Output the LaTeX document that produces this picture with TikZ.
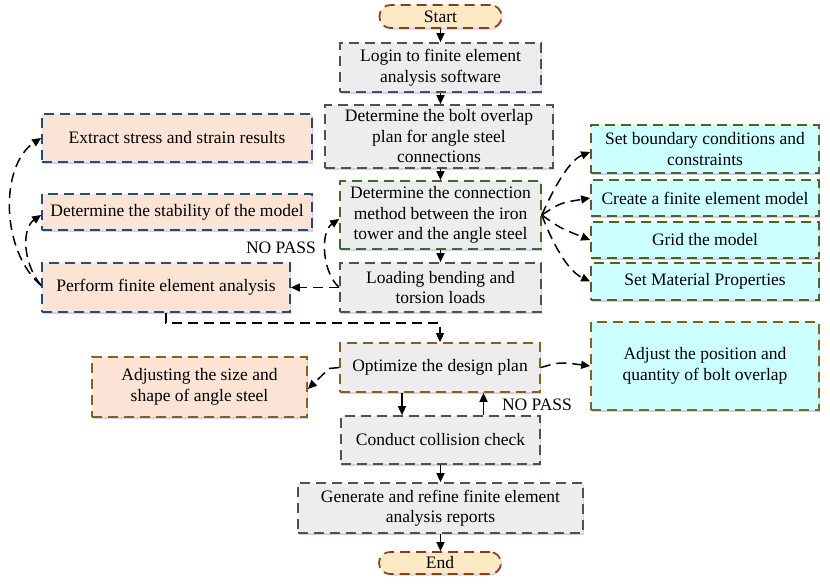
\documentclass[tikz,border=0pt]{standalone}
\usepackage{fontspec}
\setmainfont{Liberation Serif}
\usetikzlibrary{arrows.meta,shadows}

\definecolor{boxgray}{HTML}{EDEDED}
\definecolor{edgegray}{HTML}{505050}
\definecolor{startfill}{HTML}{FDEAC4}
\definecolor{startedge}{HTML}{8A3F14}
\definecolor{peach}{HTML}{FBE4D5}
\definecolor{blueedge}{HTML}{1F4E79}
\definecolor{cyanfill}{HTML}{CCFFFF}
\definecolor{greenedge}{HTML}{3E6B2A}
\definecolor{olivegreen}{HTML}{4F6228}
\definecolor{goldedge}{HTML}{86631A}

\begin{document}
\begin{tikzpicture}[x=1pt,y=-1pt,
  every node/.style={font=\fontsize{17.5}{20.5}\selectfont},
  graybox/.style={draw=edgegray, fill=boxgray, line width=1.7pt,
    dash pattern=on 10pt off 6pt, align=center, inner sep=0pt,
    drop shadow={shadow xshift=1pt, shadow yshift=-1.5pt, fill=blue!50!gray, opacity=0.25}},
  termbox/.style={graybox, draw=startedge, fill=startfill, rounded corners=11pt},
  peachbox/.style={graybox, draw=blueedge, fill=peach},
  cyanbox/.style={graybox, draw=olivegreen, fill=cyanfill},
  arr/.style={-{Triangle[length=9pt,width=8pt]}, line width=1.5pt, black},
  darr/.style={arr, dash pattern=on 10pt off 6pt},
  lbl/.style={inner sep=0pt}
]
\useasboundingbox (0,0) rectangle (830,587);

% main column
\node[termbox, minimum width=122pt, minimum height=23pt] (start) at (440.5,16.5) {Start};
\node[graybox, minimum width=201pt, minimum height=49pt] (login) at (440.5,67.5) {Login to finite element\\analysis software};
\node[graybox, minimum width=228pt, minimum height=63pt] (bolt) at (439,136.5) {Determine the bolt overlap\\plan for angle steel\\connections};
\node[graybox, draw=greenedge, minimum width=201pt, minimum height=68pt] (conn) at (440.5,215) {Determine the connection\\method between the iron\\tower and the angle steel};
\node[graybox, minimum width=201pt, minimum height=49pt] (load) at (440.5,287.5) {Loading bending and\\torsion loads};

% left column
\node[peachbox, minimum width=270pt, minimum height=48pt] (extract) at (177,138) {Extract stress and strain results};
\node[peachbox, minimum width=270pt, minimum height=36pt] (stab) at (177,212) {Determine the stability of the model};
\node[peachbox, minimum width=248pt, minimum height=49pt] (perf) at (166,287.5) {Perform finite element analysis};

% right column
\node[cyanbox, minimum width=228pt, minimum height=48pt] (bound) at (705,149) {Set boundary conditions and\\constraints};
\node[cyanbox, minimum width=228pt, minimum height=36pt] (create) at (705,198) {Create a finite element model};
\node[cyanbox, minimum width=228pt, minimum height=36pt] (grid) at (705,240) {Grid the model};
\node[cyanbox, minimum width=228pt, minimum height=37pt] (mat) at (705,281.5) {Set Material Properties};

% lower part
\node[graybox, draw=goldedge, minimum width=200pt, minimum height=49pt] (opt) at (440,367.5) {Optimize the design plan};
\node[peachbox, draw=goldedge, minimum width=215pt, minimum height=60pt] (adjsize) at (199.5,387) {Adjusting the size and\\shape of angle steel};
\node[cyanbox, draw=goldedge, minimum width=228pt, minimum height=88pt] (adjpos) at (705,366) {Adjust the position and\\quantity of bolt overlap};
\node[graybox, minimum width=199pt, minimum height=48pt] (coll) at (440.5,440) {Conduct collision check};
\node[graybox, minimum width=285pt, minimum height=50pt] (gen) at (440.5,508) {Generate and refine finite element\\analysis reports};
\node[termbox, minimum width=122pt, minimum height=22pt] (end) at (440,563) {End};

% labels
\node[lbl] (np1) at (281,248) {NO PASS};
\node[lbl] (np2) at (537,405) {NO PASS};

% main flow
\draw[arr] (start.south) -- (start.south |- login.north);
\draw[arr] (login.south) -- (login.south |- bolt.north);
\draw[arr] (conn.north |- bolt.south) -- (conn.north);
\draw[arr] (conn.south) -- (load.north);

% loading -> perform, loading -> connection
\draw[darr] (load.west) -- (perf.east);
\draw[darr] (load.west) .. controls (322,272) and (320,232) .. ([yshift=-4pt]conn.west);

% perform -> left boxes
\draw[darr] ([yshift=2pt]perf.west) .. controls (0,250) and (0,165) .. (extract.west);
\draw[darr] ([yshift=2pt]perf.west) .. controls (22,262) and (22,228) .. ([yshift=-3pt]stab.west);

% connection -> right boxes
\draw[darr] (conn.east) .. controls (555,185) and (570,160) .. ([yshift=-3pt]bound.west);
\draw[darr] (conn.east) .. controls (560,203) .. (create.west);
\draw[darr] (conn.east) .. controls (560,228) .. (grid.west);
\draw[darr] (conn.east) .. controls (555,250) and (570,272) .. (mat.west);

% perform -> optimize
\draw[darr] (perf.south) -- ++(0,10) -| (opt.north);

% optimize -> adjust boxes
\draw[darr] (opt.west) -- ++(-10,1) -- ([yshift=-2pt]adjsize.east);
\draw[darr] (opt.east) .. controls (560,362) .. (adjpos.west);

% optimize <-> collision
\draw[arr] ([xshift=-38pt]opt.south) -- ([xshift=-38pt]opt.south |- coll.north);
\draw[arr] ([xshift=43pt]coll.north) -- ([xshift=43pt]coll.north |- opt.south);

\draw[arr] (coll.south) -- (coll.south |- gen.north);
\draw[arr] (gen.south) -- (gen.south |- end.north);
\end{tikzpicture}
\end{document}
